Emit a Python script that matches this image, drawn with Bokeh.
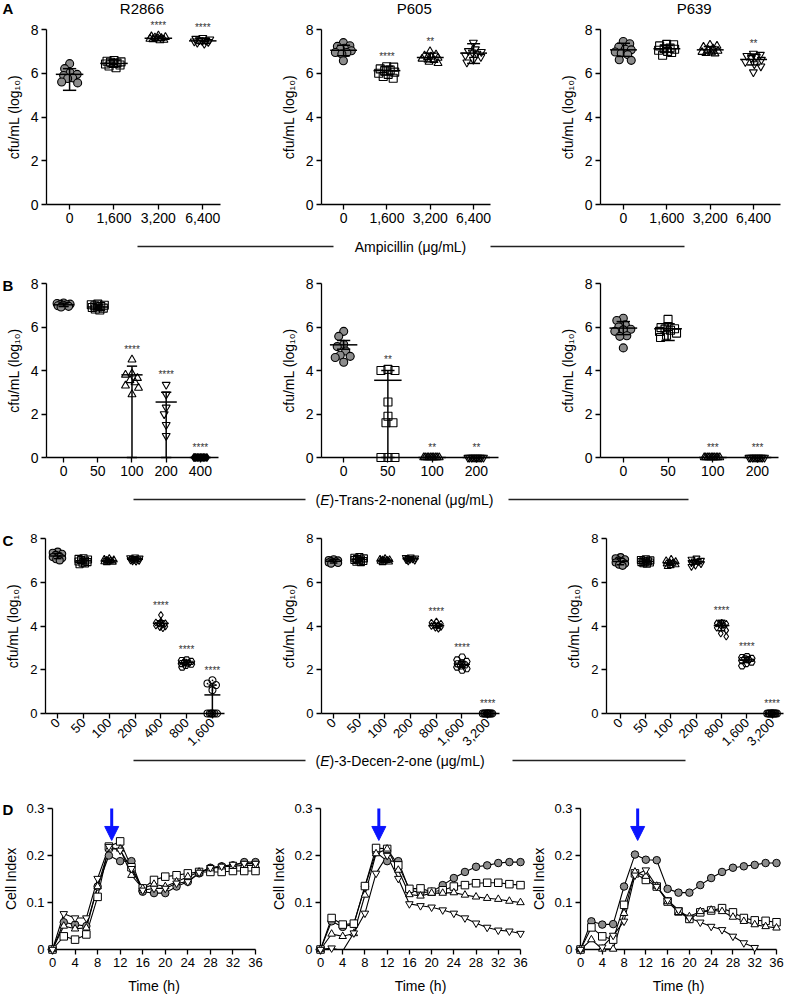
import math
import numpy as np
from bokeh.plotting import figure
from bokeh.layouts import column, row
from bokeh.models import Range1d, FixedTicker, Arrow, NormalHead
from bokeh.embed import file_html
from bokeh.resources import INLINE
from bokeh.core.properties import value

FONT = "Liberation Sans"
GRAY = "#8c8c8c"
BLUE = "#0a14ff"

# ---------------------------------------------------------------- data
strains = ["R2866", "P605", "P639"]
panel_letters = ["A", "B", "C", "D"]

# Row A: ampicillin
amp_doses = ["0", "1,600", "3,200", "6,400"]
r2866_amp = [[6.44, 6.21, 6.02, 5.95, 5.90, 5.79, 5.76, 5.60, 5.56],
             [6.58, 6.55, 6.52, 6.50, 6.47, 6.45, 6.42, 6.38, 6.33, 6.25],
             [7.72, 7.68, 7.65, 7.63, 7.61, 7.59, 7.57, 7.55, 7.52, 7.50],
             [7.62, 7.58, 7.55, 7.52, 7.50, 7.48, 7.46, 7.43, 7.40, 7.35]]
r2866_amp_mean = [5.95, 6.45, 7.60, 7.48]
r2866_amp_lo = [5.22, 6.30, 7.50, 7.36]
r2866_amp_hi = [6.21, 6.60, 7.70, 7.60]
r2866_amp_sig = ["", "", "****", "****"]

p605_amp = [[7.40, 7.26, 7.23, 7.14, 7.10, 7.03, 6.95, 6.95, 6.88, 6.57],
            [6.30, 6.28, 6.20, 6.15, 6.10, 6.05, 6.00, 5.95, 5.85, 5.77],
            [7.00, 6.85, 6.80, 6.76, 6.73, 6.70, 6.66, 6.60, 6.52, 6.46],
            [7.40, 7.10, 7.02, 6.98, 6.95, 6.90, 6.82, 6.75, 6.62, 6.50]]
p605_amp_mean = [7.05, 6.12, 6.72, 6.92]
p605_amp_lo = [6.80, 5.92, 6.52, 6.45]
p605_amp_hi = [7.28, 6.32, 6.92, 7.35]
p605_amp_sig = ["", "****", "**", ""]

p639_amp = [[7.45, 7.35, 7.20, 7.10, 7.07, 6.97, 6.92, 6.85, 6.62, 6.59],
            [7.32, 7.30, 7.25, 7.15, 7.12, 7.10, 7.05, 7.00, 6.95, 6.82],
            [7.30, 7.25, 7.20, 7.12, 7.07, 7.02, 6.97, 6.95, 6.92, 6.90],
            [6.90, 6.85, 6.80, 6.75, 6.70, 6.62, 6.52, 6.42, 6.32, 6.05]]
p639_amp_mean = [7.07, 7.12, 7.07, 6.63]
p639_amp_lo = [6.77, 6.97, 6.92, 6.38]
p639_amp_hi = [7.37, 7.27, 7.22, 6.88]
p639_amp_sig = ["", "", "", "**"]

# Row B: (E)-trans-2-nonenal
non_doses_r2866 = ["0", "50", "100", "200", "400"]
non_doses = ["0", "50", "100", "200"]
r2866_non = [[7.10, 7.08, 7.05, 7.04, 7.02, 7.00, 6.98, 6.95, 6.92],
             [7.05, 7.02, 7.00, 6.97, 6.94, 6.92, 6.90, 6.87, 6.83, 6.78],
             [4.50, 3.85, 3.80, 3.65, 3.55, 3.45, 3.30, 3.20, 2.90],
             [3.35, 2.90, 2.30, 2.00, 1.50, 1.00],
             [0.0, 0.0, 0.0, 0.0, 0.0, 0.0, 0.0, 0.0, 0.0, 0.0]]
r2866_non_mean = [7.02, 6.92, 3.80, 2.55, 0.0]
r2866_non_lo = [6.94, 6.82, 0.0, 0.0, 0.0]
r2866_non_hi = [7.10, 7.02, 4.20, 3.00, 0.0]
r2866_non_sig = ["", "", "****", "****", "****"]

p605_non = [[5.80, 5.57, 5.20, 5.10, 4.90, 4.70, 4.65, 4.60, 4.38],
            [4.05, 4.00, 4.00, 2.55, 1.90, 1.60, 1.60, 0.0, 0.0, 0.0],
            [0.0, 0.0, 0.0, 0.0, 0.0, 0.0, 0.0, 0.0, 0.0, 0.0],
            [0.0, 0.0, 0.0, 0.0, 0.0, 0.0, 0.0, 0.0, 0.0, 0.0]]
p605_non_mean = [5.18, 3.55, 0.0, 0.0]
p605_non_lo = [4.98, 0.0, 0.0, 0.0]
p605_non_hi = [5.38, 4.00, 0.0, 0.0]
p605_non_sig = ["", "**", "**", "**"]

p639_non = [[6.40, 6.30, 6.10, 6.00, 5.90, 5.87, 5.80, 5.60, 5.57, 5.04],
            [6.35, 6.02, 5.97, 5.92, 5.90, 5.85, 5.80, 5.72, 5.62, 5.52],
            [0.0, 0.0, 0.0, 0.0, 0.0, 0.0, 0.0, 0.0, 0.0, 0.0],
            [0.0, 0.0, 0.0, 0.0, 0.0, 0.0, 0.0, 0.0, 0.0, 0.0]]
p639_non_mean = [5.95, 5.92, 0.0, 0.0]
p639_non_lo = [5.65, 5.38, 0.0, 0.0]
p639_non_hi = [6.25, 6.15, 0.0, 0.0]
p639_non_sig = ["", "", "***", "***"]

# Row C: (E)-3-decen-2-one
dec_doses_r2866 = ["0", "50", "100", "200", "400", "800", "1,600"]
dec_doses = ["0", "50", "100", "200", "800", "1,600", "3,200"]
r2866_dec = [[7.40, 7.35, 7.30, 7.25, 7.20, 7.15, 7.10, 7.05, 7.00],
             [7.10, 7.07, 7.04, 7.01, 6.98, 6.95, 6.92, 6.89, 6.86, 6.82],
             [7.08, 7.05, 7.02, 7.00, 6.98, 6.96, 6.94, 6.92, 6.90],
             [7.15, 7.12, 7.10, 7.08, 7.06, 7.04, 7.02, 7.00, 6.98, 6.96],
             [4.50, 4.20, 4.16, 4.12, 4.10, 4.06, 4.02, 3.98, 3.95, 3.90],
             [2.45, 2.42, 2.38, 2.34, 2.30, 2.28, 2.25, 2.20, 2.12],
             [1.52, 1.37, 1.30, 1.07, 0.0, 0.0, 0.0, 0.0, 0.0, 0.0]]
r2866_dec_mean = [7.20, 6.98, 6.98, 7.05, 4.12, 2.32, 0.85]
r2866_dec_lo = [7.08, 6.88, 6.92, 7.00, 4.00, 2.22, 0.0]
r2866_dec_hi = [7.32, 7.08, 7.04, 7.12, 4.24, 2.42, 1.30]
r2866_dec_sig = ["", "", "", "", "****", "****", "****"]

p605_dec = [[7.05, 7.02, 7.00, 6.97, 6.95, 6.92, 6.90, 6.88, 6.85],
            [7.15, 7.12, 7.09, 7.06, 7.04, 7.02, 7.00, 6.97, 6.94, 6.92],
            [7.08, 7.05, 7.03, 7.01, 7.00, 6.98, 6.96, 6.93, 6.90],
            [7.15, 7.13, 7.11, 7.09, 7.07, 7.05, 7.03, 7.01, 6.98],
            [4.20, 4.15, 4.10, 4.06, 4.02, 4.00, 3.96, 3.92, 3.88],
            [2.58, 2.45, 2.38, 2.32, 2.27, 2.22, 2.17, 2.12, 2.05, 1.98],
            [0.0, 0.0, 0.0, 0.0, 0.0, 0.0, 0.0, 0.0, 0.0, 0.0]]
p605_dec_mean = [6.96, 7.04, 7.00, 7.07, 4.02, 2.25, 0.0]
p605_dec_lo = [6.88, 6.96, 6.94, 7.02, 3.92, 2.12, 0.0]
p605_dec_hi = [7.04, 7.12, 7.06, 7.12, 4.12, 2.38, 0.0]
p605_dec_sig = ["", "", "", "", "****", "****", "****"]

p639_dec = [[7.15, 7.10, 7.05, 7.00, 6.95, 6.90, 6.85, 6.80, 6.75],
            [7.05, 7.02, 7.00, 6.98, 6.96, 6.94, 6.92, 6.90, 6.87, 6.85],
            [7.05, 6.98, 6.94, 6.90, 6.87, 6.84, 6.80, 6.76, 6.72],
            [7.10, 7.05, 7.00, 6.97, 6.94, 6.90, 6.85, 6.78, 6.72],
            [4.15, 4.12, 4.10, 4.08, 4.05, 4.00, 3.92, 3.80, 3.66, 3.52],
            [2.60, 2.56, 2.52, 2.50, 2.46, 2.42, 2.35, 2.28, 2.18],
            [0.0, 0.0, 0.0, 0.0, 0.0, 0.0, 0.0, 0.0, 0.0, 0.0]]
p639_dec_mean = [6.95, 6.95, 6.88, 6.93, 4.02, 2.45, 0.0]
p639_dec_lo = [6.80, 6.88, 6.78, 6.83, 3.78, 2.33, 0.0]
p639_dec_hi = [7.10, 7.02, 6.98, 7.03, 4.26, 2.57, 0.0]
p639_dec_sig = ["", "", "", "", "****", "****", "****"]

y_ticks_cfu = [0, 2, 4, 6, 8]

# Row D: cell index over time
time_h = [0, 2, 4, 6, 8, 10, 12, 14, 16, 18, 20, 22, 24, 26, 28, 30, 32, 34, 36]
time_ticks = [0, 4, 8, 12, 16, 20, 24, 28, 32, 36]
ci_ticks = [0, 0.1, 0.2, 0.3]
ci_tick_labels = ["0", "0.1", "0.2", "0.3"]

r2866_ci_ctrl = [0, 0.058, 0.053, 0.050, 0.134, 0.200, 0.188, 0.188, 0.123, 0.120, 0.120, 0.134, 0.144, 0.162, 0.174, 0.177, 0.179, 0.186, 0.186]
r2866_ci_sq = [0, 0.028, 0.021, 0.032, 0.112, 0.219, 0.230, 0.175, 0.130, 0.148, 0.155, 0.158, 0.162, 0.165, 0.165, 0.165, 0.167, 0.167, 0.167]
r2866_ci_tri = [0, 0.050, 0.044, 0.046, 0.134, 0.214, 0.214, 0.158, 0.130, 0.139, 0.134, 0.144, 0.155, 0.165, 0.172, 0.176, 0.177, 0.179, 0.179]
r2866_ci_inv = [0, 0.076, 0.067, 0.067, 0.151, 0.219, 0.211, 0.172, 0.126, 0.130, 0.130, 0.141, 0.144, 0.164, 0.174, 0.177, 0.181, 0.183, 0.183]

p605_ci_ctrl = [0, 0.060, 0.048, 0.054, 0.134, 0.207, 0.188, 0.188, 0.126, 0.121, 0.123, 0.137, 0.152, 0.165, 0.176, 0.179, 0.184, 0.186, 0.186]
p605_ci_sq = [0, 0.067, 0.053, 0.055, 0.135, 0.216, 0.214, 0.179, 0.129, 0.130, 0.123, 0.126, 0.134, 0.137, 0.141, 0.142, 0.142, 0.139, 0.137]
p605_ci_tri = [0, 0.033, 0.028, 0.034, 0.116, 0.204, 0.214, 0.169, 0.117, 0.114, 0.120, 0.120, 0.121, 0.116, 0.112, 0.109, 0.107, 0.103, 0.100]
p605_ci_inv = [0, 0.003, -0.003, 0.035, 0.077, 0.162, 0.200, 0.151, 0.097, 0.093, 0.090, 0.084, 0.077, 0.067, 0.056, 0.047, 0.041, 0.039, 0.034]

p639_ci_ctrl = [0, 0.060, 0.053, 0.054, 0.134, 0.202, 0.191, 0.190, 0.129, 0.121, 0.121, 0.137, 0.152, 0.165, 0.174, 0.177, 0.180, 0.184, 0.184]
p639_ci_sq = [0, 0.047, 0.028, 0.021, 0.095, 0.162, 0.148, 0.134, 0.102, 0.081, 0.065, 0.079, 0.083, 0.088, 0.079, 0.067, 0.062, 0.061, 0.058]
p639_ci_tri = [0, 0.021, 0.001, 0.001, 0.077, 0.165, 0.156, 0.135, 0.102, 0.079, 0.070, 0.081, 0.084, 0.081, 0.069, 0.060, 0.053, 0.049, 0.046]
p639_ci_inv = [0, -0.010, 0.005, 0.030, 0.060, 0.158, 0.169, 0.134, 0.105, 0.084, 0.067, 0.058, 0.049, 0.042, 0.028, 0.014, 0.004, -0.008, -0.020]

treatment_time = 10.5   # blue arrow
arrow_top, arrow_tip = 0.323, 0.232

# ---------------------------------------------------------------- helpers
def style_axes(p, tick_size):
    for ax in p.axis:
        ax.axis_line_color = "black"
        ax.axis_line_width = 1.3
        ax.major_tick_line_color = "black"
        ax.major_tick_line_width = 1.3
        ax.major_tick_out = 5
        ax.major_tick_in = 0
        ax.minor_tick_line_color = None
        ax.major_label_text_font = FONT
        ax.major_label_text_font_size = tick_size
        ax.major_label_text_color = "black"
        ax.major_label_standoff = 3
        ax.axis_label_text_font = FONT
        ax.axis_label_text_font_size = "14px"
        ax.axis_label_text_font_style = "normal"
        ax.axis_label_text_color = "black"


def base_fig(geom, xr, yr, tick_size="14px"):
    w, h, bl, br, bt, bb = geom
    p = figure(width=w, height=h, x_range=Range1d(*xr), y_range=Range1d(*yr),
               output_backend="svg", toolbar_location=None,
               min_border_left=bl, min_border_right=br,
               min_border_top=bt, min_border_bottom=bb)
    p.outline_line_color = None
    p.xgrid.visible = False
    p.ygrid.visible = False
    p.background_fill_color = "white"
    p.border_fill_color = "white"
    style_axes(p, tick_size)
    return p


def swarm(vals, ppx, ppy, d, maxhalf):
    cands = sorted(np.arange(-maxhalf, maxhalf + 0.01, 0.5), key=lambda c: (abs(c), c))
    placed, offs = [], []
    for v in vals:
        yp = v * ppy
        best, bestd = 0.0, -1.0
        for c in cands:
            md = min([math.hypot(c - px, yp - py) for px, py in placed], default=1e9)
            if md >= d:
                best = c
                break
            if md > bestd:
                bestd, best = md, c
        placed.append((best, yp))
        offs.append(best / ppx)
    return offs


def add_text(p, x, y, text, size, bold=False, align="center"):
    p.text(x=[x], y=[y], text=[text], text_font=value(FONT), text_font_size=size,
           text_font_style="bold" if bold else "normal", text_align=align,
           text_baseline="middle", text_color="black", level="overlay")


def dot_panel(geom, pad, labels, groups, mean, lo, hi, sig, markers, fills, msize,
              tick_size="14px", rotate=False, title=None, letter=None, letter_dy=0):
    w, h, bl, br, bt, bb = geom
    n = len(labels)
    xr = (-pad[0], n - 1 + pad[1])
    p = base_fig(geom, xr, (0, 8), tick_size)
    fw, fh = w - bl - br, h - bt - bb
    ppx = fw / (xr[1] - xr[0])
    ppy = fh / 8.0
    p.xaxis.ticker = FixedTicker(ticks=list(range(n)))
    p.xaxis.major_label_overrides = {i: lab for i, lab in enumerate(labels)}
    if rotate:
        p.xaxis.major_label_orientation = math.pi / 4
        p.xaxis.major_label_standoff = 2
    p.yaxis.ticker = FixedTicker(ticks=y_ticks_cfu)
    p.yaxis.axis_label = "cfu/mL (log\u2081\u2080)"
    p.yaxis.axis_label_standoff = 6

    for i, vals in enumerate(groups):
        offs = swarm(vals, ppx, ppy, msize * 0.85, 0.19 * ppx)
        fc = fills[i]
        p.scatter([i + o for o in offs], vals, marker=markers[i], size=msize,
                  line_color="black", line_width=1.1,
                  fill_color=fc if fc else "white", fill_alpha=1.0 if fc else 0.0,
                  level="overlay")
    x0, y0, x1, y1 = [], [], [], []
    for i in range(n):
        x0 += [i - 0.31, i, i - 0.15, i - 0.15]
        x1 += [i + 0.31, i, i + 0.15, i + 0.15]
        y0 += [mean[i], lo[i], lo[i], hi[i]]
        y1 += [mean[i], hi[i], lo[i], hi[i]]
    p.segment(x0=x0, y0=y0, x1=x1, y1=y1, line_color="black", line_width=1.5, level="overlay")

    sx, sy, st = [], [], []
    for i, s in enumerate(sig):
        if s:
            top = max(max(groups[i]), hi[i])
            sx.append(i)
            sy.append(top + 10 / ppy)
            st.append(s)
    if st:
        p.text(x=sx, y=sy, text=st, text_font=value(FONT), text_font_size="10px",
               text_color="#333333", text_align="center", text_baseline="middle", level="overlay")
    if title:
        add_text(p, 1.63, 8 + 21 / ppy, title, "15px")
    if letter:
        add_text(p, xr[0] - (bl - 2) / ppx, 8 + letter_dy / ppy, letter, "15px", bold=True, align="left")
    return p


CI_MARKERS = ["circle", "square", "triangle", "inverted_triangle"]
CI_FILLS = [GRAY, "white", "white", "white"]


def ci_panel(geom, series, letter=None):
    w, h, bl, br, bt, bb = geom
    p = base_fig(geom, (0, 36), (0, 0.3), "13px")
    fh = h - bt - bb
    ppy = fh / 0.3
    fw = w - bl - br
    ppx = fw / 36.0
    p.xaxis.ticker = FixedTicker(ticks=time_ticks)
    p.yaxis.ticker = FixedTicker(ticks=ci_ticks)
    p.yaxis.major_label_overrides = {t: s for t, s in zip(ci_ticks, ci_tick_labels)}
    p.xaxis.axis_label = "Time (h)"
    p.yaxis.axis_label = "Cell Index"
    p.xaxis.axis_label_standoff = 8
    p.yaxis.axis_label_standoff = 4
    for ys in series:
        p.line(time_h, ys, line_color="black", line_width=1.1)
    for ys, mk, fc in zip(series, CI_MARKERS, CI_FILLS):
        tt = [t for t, y in zip(time_h, ys) if y >= 0]
        yy = [y for y in ys if y >= 0]
        p.scatter(tt, yy, marker=mk, size=7.5, fill_color=fc, line_color="black",
                  line_width=1.0, level="overlay")
    p.add_layout(Arrow(end=NormalHead(size=14, fill_color=BLUE, line_color=BLUE, line_width=1),
                       x_start=treatment_time, y_start=arrow_top, x_end=treatment_time, y_end=arrow_tip,
                       line_color=BLUE, line_width=3))
    if letter:
        add_text(p, -(bl - 2) / ppx, 0.3 - 1 / ppy, letter, "15px", bold=True, align="left")
    return p


def sep_fig(h, ly, segs, pieces):
    p = figure(width=787, height=h, x_range=Range1d(0, 787), y_range=Range1d(h, 0),
               x_axis_location=None, y_axis_location=None, min_border=0,
               output_backend="svg", toolbar_location=None)
    p.outline_line_color = None
    p.xgrid.visible = False
    p.ygrid.visible = False
    p.segment(x0=[s[0] for s in segs], x1=[s[1] for s in segs], y0=[ly] * len(segs),
              y1=[ly] * len(segs), line_color="#222222", line_width=1.3)
    for x, dx, txt, style, align in pieces:
        p.text(x=[x], y=[ly], x_offset=dx, text=[txt], text_font=value(FONT), text_font_size="14px",
               text_font_style=style, text_align=align, text_baseline="middle", text_color="black")
    return p


# ---------------------------------------------------------------- build
MK4 = ["circle", "square", "triangle", "inverted_triangle"]
MK5 = MK4 + ["diamond"]
MK7 = MK4 + ["diamond", "hex", "circle_dot"]
F4 = [GRAY, None, None, None]
F5 = [GRAY, None, None, None, "black"]
F7 = [GRAY, None, None, None, None, None, None]

# geometry: (width, height, border_left, border_right, border_top, border_bottom)
a1 = dot_panel((260, 232, 46, 40, 29, 28), (0.52, 0.40), amp_doses, r2866_amp, r2866_amp_mean,
               r2866_amp_lo, r2866_amp_hi, r2866_amp_sig, MK4, F4, 8, title=strains[0],
               letter=panel_letters[0], letter_dy=21)
a2 = dot_panel((260, 232, 61, 30, 29, 28), (0.51, 0.39), amp_doses, p605_amp, p605_amp_mean,
               p605_amp_lo, p605_amp_hi, p605_amp_sig, MK4, F4, 8, title=strains[1])
a3 = dot_panel((267, 232, 80, 7, 29, 28), (0.53, 0.62), amp_doses, p639_amp, p639_amp_mean,
               p639_amp_lo, p639_amp_hi, p639_amp_sig, MK4, F4, 8, title=strains[2])

b1 = dot_panel((260, 227, 46, 42, 25, 28), (0.50, 0.53), non_doses_r2866, r2866_non, r2866_non_mean,
               r2866_non_lo, r2866_non_hi, r2866_non_sig, MK5, F5, 8,
               letter=panel_letters[1], letter_dy=-2)
b2 = dot_panel((260, 227, 61, 22, 25, 28), (0.50, 0.50), non_doses, p605_non, p605_non_mean,
               p605_non_lo, p605_non_hi, p605_non_sig, MK4, F4, 8)
b3 = dot_panel((267, 227, 80, 9, 25, 28), (0.51, 0.47), non_doses, p639_non, p639_non_mean,
               p639_non_lo, p639_non_hi, p639_non_sig, MK4, F4, 8)

c1 = dot_panel((260, 241, 45, 36, 26, 40), (0.47, 0.47), dec_doses_r2866, r2866_dec, r2866_dec_mean,
               r2866_dec_lo, r2866_dec_hi, r2866_dec_sig, MK7, F7, 7, tick_size="13px", rotate=True,
               letter=panel_letters[2], letter_dy=-2)
c2 = dot_panel((260, 241, 61, 21, 26, 40), (0.47, 0.46), dec_doses, p605_dec, p605_dec_mean,
               p605_dec_lo, p605_dec_hi, p605_dec_sig, MK7, F7, 7, tick_size="13px", rotate=True)
c3 = dot_panel((267, 241, 86, 4, 26, 40), (0.55, 0.45), dec_doses, p639_dec, p639_dec_mean,
               p639_dec_lo, p639_dec_hi, p639_dec_sig, MK7, F7, 7, tick_size="13px", rotate=True)

d1 = ci_panel((268, 224, 52, 13, 36, 46), [r2866_ci_ctrl, r2866_ci_sq, r2866_ci_tri, r2866_ci_inv],
              letter=panel_letters[3])
d2 = ci_panel((260, 224, 50, 8, 36, 46), [p605_ci_ctrl, p605_ci_sq, p605_ci_tri, p605_ci_inv])
d3 = ci_panel((259, 224, 50, 11, 36, 46), [p639_ci_ctrl, p639_ci_sq, p639_ci_tri, p639_ci_inv])

s1 = sep_fig(26, 14, [(137, 333), (490, 684)],
             [(410, 0, "Ampicillin (\u03bcg/mL)", "normal", "center")])
s2 = sep_fig(27, 14, [(133, 305), (508, 688)],
             [(315, 0, "(", "normal", "left"), (315, 4.7, "E", "italic", "left"),
              (315, 14.0, ")-Trans-2-nonenal (\u03bcg/mL)", "normal", "left")])
s3 = sep_fig(19, 7, [(133, 305), (512, 685)],
             [(315, 0, "(", "normal", "left"), (315, 4.7, "E", "italic", "left"),
              (315, 14.0, ")-3-Decen-2-one (\u03bcg/mL)", "normal", "left")])

layout = column(row(a1, a2, a3), s1, row(b1, b2, b3), s2, row(c1, c2, c3), s3, row(d1, d2, d3))

open("out.html", "w").write(file_html(layout, INLINE))
